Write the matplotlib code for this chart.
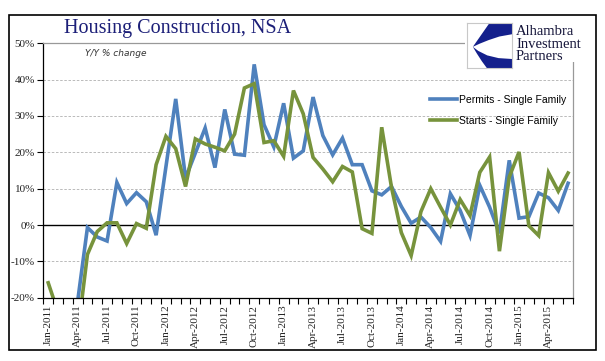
import numpy as np
import pandas as pd
import matplotlib
matplotlib.use("Agg")
import matplotlib.pyplot as plt
from matplotlib.patches import Rectangle, Polygon

# monthly categories, Jan-2011 .. Jun-2015
months = pd.date_range("2011-01-01", periods=54, freq="MS")
month_labels = [m.strftime("%b-%Y") for m in months]

# Y/Y % change (values below -20% are off the chart in the original)
permits = [-27, -26, -24, -21, -0.7, -3.3, -4.4, 11.7, 5.9, 8.9, 6.4, -2.8,
           16.0, 34.7, 12.9, 19.8, 26.7, 15.8, 31.8, 19.5, 19.2, 44.2, 27.6, 21.5,
           33.5, 18.4, 20.4, 35.2, 24.6, 19.3, 23.9, 16.6, 16.6, 9.4, 8.3, 10.6,
           5.1, 0.5, 2.2, -0.7, -4.5, 8.6, 4.0, -2.9, 10.9, 4.9, -2.3, 17.8,
           1.9, 2.3, 8.8, 7.5, 4.0, 11.5]
starts = [-15.9, -24, -30, -30, -8.1, -1.8, 0.6, 0.6, -5.1, 0.4, -0.9, 16.6,
          24.4, 21.0, 10.6, 23.7, 22.3, 21.4, 20.4, 25.0, 37.7, 38.9, 22.7, 23.2,
          18.9, 37.0, 30.6, 18.6, 15.4, 11.9, 16.1, 14.6, -1.0, -2.3, 26.9, 10.3,
          -2.1, -8.4, 3.7, 10.0, 4.9, 0.0, 7.0, 2.6, 14.5, 18.7, -7.2, 13.2,
          20.1, -0.2, -2.9, 14.4, 9.3, 14.3]
y_ticks = [-20, -10, 0, 10, 20, 30, 40, 50]

W, H = 605, 361
fig = plt.figure(figsize=(W / 100, H / 100), dpi=100)


def fx(px):
    return px / W


def fy(py):
    return 1 - py / H


ax = fig.add_axes([fx(43.3), fy(297.7), fx(573) - fx(43.3), fy(43.3) - fy(297.7)])
x = np.arange(len(months))

ax.plot(x, permits, color="#4F81BD", lw=2.6, label="Permits - Single Family", solid_joinstyle="miter")
ax.plot(x, starts, color="#77933C", lw=2.6, label="Starts - Single Family", solid_joinstyle="miter")

ax.set_xlim(-0.5, len(months) - 0.5)
ax.set_ylim(-20, 50)

# grid + zero line
for v in y_ticks[1:-1]:
    if v == 0:
        ax.axhline(0, color="black", lw=1.0, zorder=1)
    else:
        ax.axhline(v, color="#b0b0b0", lw=0.6, ls=(0, (3, 2)), zorder=0)

ax.set_yticks(y_ticks)
ax.set_yticklabels([f"{v}%" for v in y_ticks], fontfamily="Liberation Serif", fontsize=8, color="#222222")
ax.tick_params(axis="y", length=4, width=0.8, pad=2, direction="out")

ax.set_xticks(x[::3])
ax.set_xticklabels(month_labels[::3], rotation=90, fontfamily="Liberation Serif", fontsize=8, color="#222222")
ax.set_xticks(np.arange(len(months) + 1) - 0.5, minor=True)
ax.tick_params(axis="x", which="major", length=0, pad=5)
ax.tick_params(axis="x", which="minor", length=4, width=0.8, direction="out")

ax.spines["left"].set_color("black")
ax.spines["bottom"].set_color("black")
ax.spines["top"].set_color("#999999")
ax.spines["right"].set_color("#999999")
for s in ax.spines.values():
    s.set_linewidth(0.9)

ax.legend(loc="upper left", bbox_to_anchor=(fx(430), fy(95)), bbox_transform=fig.transFigure,
          frameon=False, handlelength=2.6, handletextpad=0.15, labelspacing=1.05, borderpad=0,
          borderaxespad=0, prop={"family": "Liberation Sans", "size": 7.5})

ax.text(fx(85), fy(54), "Y/Y % change", transform=fig.transFigure, style="italic",
        fontsize=6.5, color="#333333", va="center", ha="left")

# title
fig.text(fx(178), fy(28), "Housing Construction, NSA", ha="center", va="center",
         fontsize=14.5, family="Liberation Serif", color="#1C1F78")

# white patch behind the logo (covers plot corner)
fig.add_artist(Rectangle((fx(465), fy(62)), fx(592) - fx(465), fy(16) - fy(62),
                         transform=fig.transFigure, facecolor="white", edgecolor="none", zorder=5))

# logo mark
lax = fig.add_axes([fx(467), fy(68), fx(45), 45 / H], zorder=6)
lax.set_xlim(0, 1)
lax.set_ylim(1, 0)
lax.set_xticks([])
lax.set_yticks([])
for s in lax.spines.values():
    s.set_color("#c8c8c8")
    s.set_linewidth(0.8)
navy = "#14208C"
upper = [(0.50, 0.0), (1.0, 0.0), (1.0, 0.25), (0.72, 0.30), (0.48, 0.38), (0.28, 0.46), (0.13, 0.53)]
lower = [(0.13, 0.53), (0.22, 0.68), (0.33, 0.85), (0.44, 1.0), (1.0, 1.0), (1.0, 0.80),
         (0.70, 0.78), (0.45, 0.72), (0.25, 0.62)]
lax.add_patch(Polygon(upper, closed=True, facecolor=navy, edgecolor="none"))
lax.add_patch(Polygon(lower, closed=True, facecolor=navy, edgecolor="none"))

for txt, base in [("Alhambra", 35), ("Investment", 47.5), ("Partners", 60)]:
    fig.text(fx(516), fy(base), txt, ha="left", va="baseline", fontsize=10.5,
             family="Liberation Serif", color="#15153a", zorder=7)

# outer frame
fig.add_artist(Rectangle((fx(9), fy(350)), fx(596) - fx(9), fy(15) - fy(350),
                         transform=fig.transFigure, fill=False, edgecolor="black", lw=1.2, zorder=8))

fig.savefig("out.png", dpi=100)
